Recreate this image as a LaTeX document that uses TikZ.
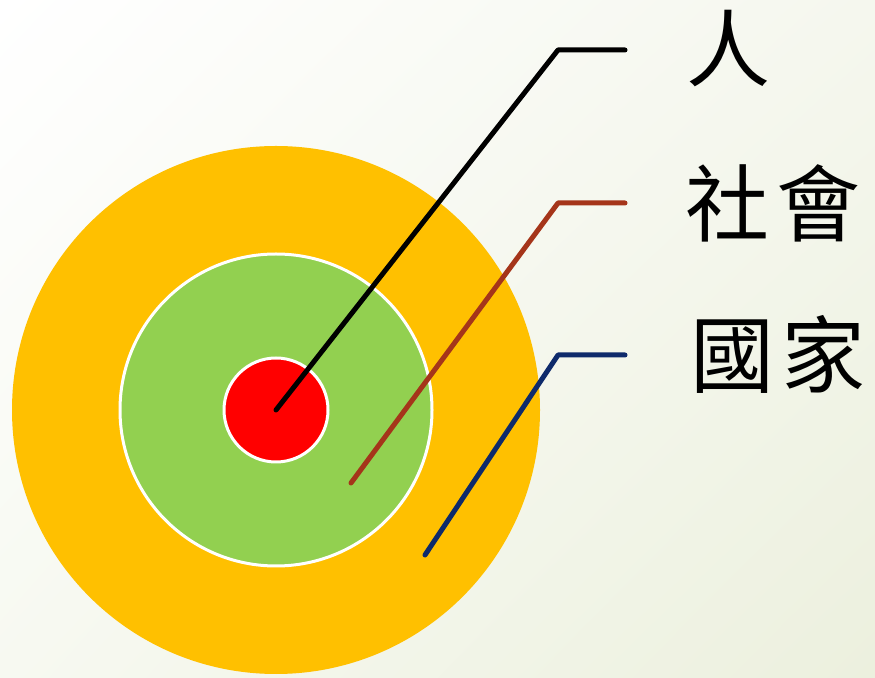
\documentclass[tikz,border=0pt]{standalone}
\usepackage{fontspec}
\usepackage{xcolor}
\usepackage{tkz-euclide}
\usetikzlibrary{shadings}
\newfontfamily\cjk{Noto Sans CJK TC}
\definecolor{ringorange}{HTML}{FFC000}
\definecolor{ringgreen}{HTML}{92D050}
\definecolor{ringred}{HTML}{FF0000}
\definecolor{linebrown}{HTML}{A5351A}
\definecolor{linenavy}{HTML}{0E2A6B}
\definecolor{bgtl}{HTML}{FFFFFF}
\definecolor{bgtr}{HTML}{F5F7EE}
\definecolor{bgbl}{HTML}{F7F9F1}
\definecolor{bgbr}{HTML}{ECF0DE}

\begin{document}
\begin{tikzpicture}[x=1pt,y=1pt]
\tikzset{
ring/.style={draw=white,line width=3pt},
lead/.style={line width=5pt,line cap=round,line join=round},
word/.style={font=\cjk\fontsize{84}{84}\selectfont,inner sep=0pt}
}
\useasboundingbox (0,0) rectangle (875,677);
\shade[upper left=bgtl,upper right=bgtr,lower left=bgbl,lower right=bgbr] (0,0) rectangle (875,677);
\tkzDefPoints{276/267/O}
\tkzDefPoints{558/627/P1,625/627/P2}
\tkzDefPoints{351/194/S0,558/474/S1,625/474/S2}
\tkzDefPoints{425/122/N0,558/322/N1,625/322/N2}

% rings
\fill[ringorange] (O) circle (264);
\filldraw[ring,fill=ringgreen] (O) circle (156);
\filldraw[ring,fill=ringred] (O) circle (52);

% labels
\node[word] (ren) at (728,628) {人};
\node[word] (shehui) at (773,474) {社\hspace{8pt}會};
\node[word] (guojia) at (778,323) {國\hspace{8pt}家};

% leaders
\draw[lead,black] (O) -- (P1) -- (P2);
\draw[lead,linebrown] (S0) -- (S1) -- (S2);
\draw[lead,linenavy] (N0) -- (N1) -- (N2);
\end{tikzpicture}
\end{document}
